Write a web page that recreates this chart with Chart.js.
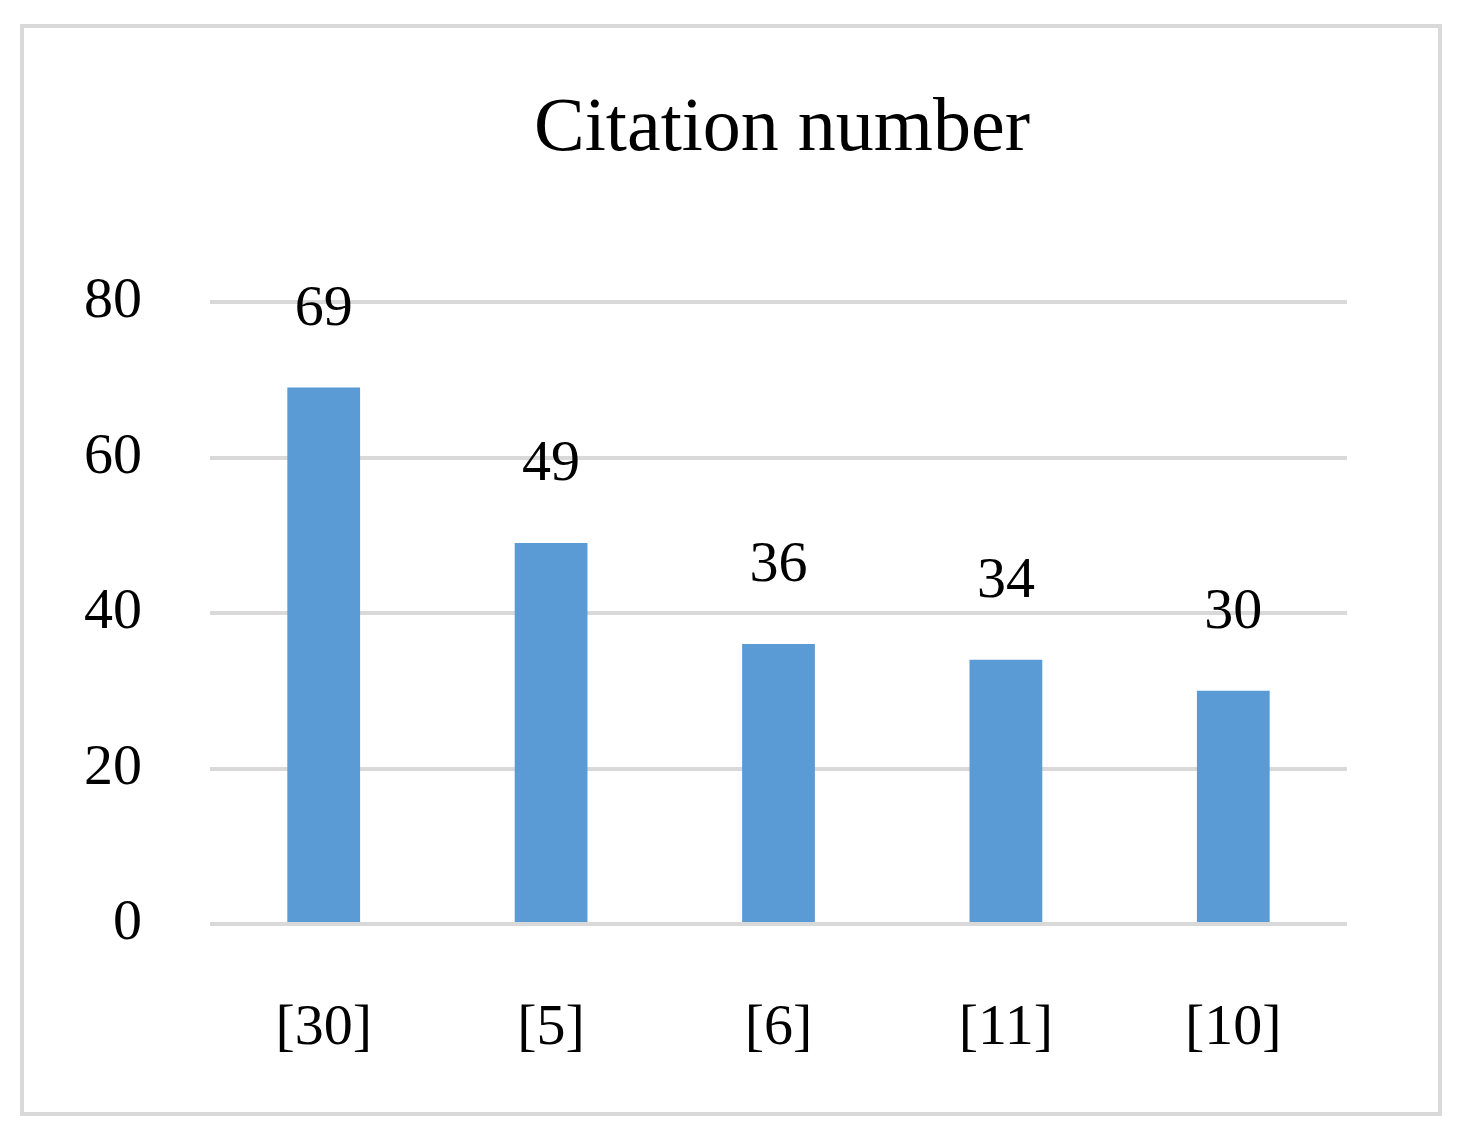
<!DOCTYPE html>
<html>
<head>
<meta charset="utf-8">
<script src="https://cdn.jsdelivr.net/npm/chart.js@4"></script>
<style>
  html, body { margin: 0; padding: 0; background: #fff; }
  #wrap { width: 1468px; height: 1138px; position: relative; }
</style>
</head>
<body>
<div id="wrap"><canvas id="myChart" width="1468" height="1138"></canvas></div>
<script>
const categories = ['[30]', '[5]', '[6]', '[11]', '[10]']
const citations = [69, 49, 36, 34, 30]
const yTicks = [0, 20, 40, 60, 80]

const serif = "'Liberation Serif', 'DejaVu Serif', serif"

// frame + title + value labels
const extras = {
  id: 'extras',
  beforeDraw(chart) {
    const ctx = chart.ctx
    ctx.save()
    ctx.fillStyle = '#fff'
    ctx.fillRect(0, 0, chart.width, chart.height)
    ctx.strokeStyle = '#d9d9d9'
    ctx.lineWidth = 4
    ctx.strokeRect(22, 26, 1418, 1088)
    ctx.fillStyle = '#000'
    ctx.font = '76px ' + serif
    ctx.textAlign = 'center'
    ctx.textBaseline = 'middle'
    ctx.fillText('Citation number', 782, 130)
    ctx.restore()
  },
  afterDatasetsDraw(chart) {
    const ctx = chart.ctx
    const meta = chart.getDatasetMeta(0)
    ctx.save()
    ctx.fillStyle = '#000'
    ctx.font = '58px ' + serif
    ctx.textAlign = 'center'
    ctx.textBaseline = 'middle'
    meta.data.forEach((bar, i) => {
      ctx.fillText(String(citations[i]), bar.x, bar.y - 78)
    })
    ctx.restore()
  }
}

new Chart(document.getElementById('myChart'), {
  type: 'bar',
  data: {
    labels: categories,
    datasets: [{
      data: citations,
      backgroundColor: '#5b9bd5',
      barPercentage: 0.64,
      categoryPercentage: 0.5
    }]
  },
  options: {
    responsive: false,
    animation: false,
    layout: { padding: { top: 302, right: 121, left: 0, bottom: 0 } },
    plugins: { legend: { display: false }, tooltip: { enabled: false } },
    scales: {
      x: {
        grid: { display: false },
        border: { display: false },
        ticks: { color: '#000', font: { family: serif, size: 58 }, padding: 62 },
        afterFit(scale) { scale.height = 214 }
      },
      y: {
        min: 0, max: 80,
        afterBuildTicks(scale) { scale.ticks = yTicks.map(v => ({ value: v })) },
        grid: { color: '#d9d9d9', lineWidth: 4, drawTicks: false },
        border: { display: false },
        ticks: { color: '#000', font: { family: serif, size: 58 }, padding: 68 },
        afterFit(scale) { scale.width = 210 }
      }
    }
  },
  plugins: [extras]
})
</script>
</body>
</html>
